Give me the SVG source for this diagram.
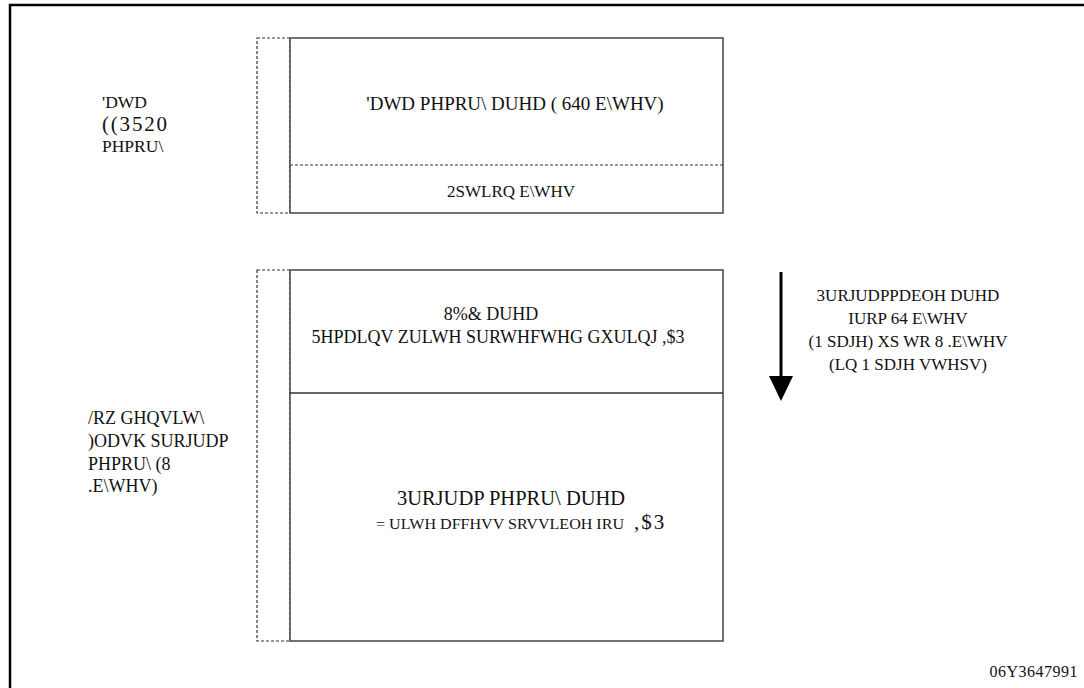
<svg xmlns="http://www.w3.org/2000/svg" width="1084" height="688" viewBox="0 0 1084 688">
<style>
text{font-family:'Liberation Serif','DejaVu Serif',serif;fill:#111;}
.box{fill:#fff;stroke:#444;stroke-width:1.5;}
.dash{fill:none;stroke:#333;stroke-width:1.2;stroke-dasharray:3,2;}
</style>
<rect x="0" y="0" width="1084" height="688" fill="#fff"/>
<path d="M10,688 L10,5 L1084,5" fill="none" stroke="#000" stroke-width="2.5"/>

<g id="left-labels" font-family="Liberation Serif, serif">
<text x="102" y="108" font-size="17.5">'DWD</text>
<text x="102" y="131" font-size="21" letter-spacing="1.8">((3520</text>
<text x="102" y="152" font-size="17.5">PHPRU\</text>
<text x="88" y="424" font-size="18">/RZ GHQVLW\</text>
<text x="88" y="447" font-size="18">)ODVK SURJUDP</text>
<text x="88" y="470" font-size="18">PHPRU\ (8</text>
<text x="88" y="492" font-size="18">.E\WHV)</text>
</g>

<g id="data-eeprom" font-family="Liberation Serif, serif">
<rect class="dash" x="257" y="38" width="33" height="175"/>
<rect class="box" x="290" y="38" width="433" height="175"/>
<line class="dash" x1="290" y1="165" x2="723" y2="165"/>
<text x="515" y="110" font-size="19" text-anchor="middle">'DWD PHPRU\ DUHD ( 640 E\WHV)</text>
<text x="511" y="197" font-size="17" text-anchor="middle">2SWLRQ E\WHV</text>
</g>

<g id="flash" font-family="Liberation Serif, serif">
<rect class="dash" x="257" y="270" width="33" height="371"/>
<rect class="box" x="290" y="270" width="433" height="371"/>
<line x1="290" y1="393" x2="723" y2="393" stroke="#333" stroke-width="1.5"/>
<text x="491" y="320" font-size="18" text-anchor="middle">8%&amp; DUHD</text>
<text x="498" y="343" font-size="18" text-anchor="middle">5HPDLQV ZULWH SURWHFWHG GXULQJ ,$3</text>
<text x="511" y="505" font-size="20.5" text-anchor="middle">3URJUDP PHPRU\ DUHD</text>
<text x="376" y="529" font-size="15.5" textLength="248" lengthAdjust="spacingAndGlyphs">= ULWH DFFHVV SRVVLEOH IRU</text>
<text x="634" y="529" font-size="21" letter-spacing="2">,$3</text>
</g>

<g id="connectors">
<line x1="781" y1="272" x2="781" y2="380" stroke="#000" stroke-width="3"/>
<path d="M769,376 L793,376 L781,401 z" fill="#000"/>
</g>

<g id="right-label" font-family="Liberation Serif, serif">
<text x="908" y="301" font-size="17" text-anchor="middle">3URJUDPPDEOH DUHD</text>
<text x="908" y="324" font-size="17" text-anchor="middle">IURP 64 E\WHV</text>
<text x="908" y="347" font-size="17" text-anchor="middle">(1 SDJH) XS WR 8 .E\WHV</text>
<text x="908" y="370" font-size="17" text-anchor="middle">(LQ 1 SDJH VWHSV)</text>
</g>

<text x="1078" y="677" font-size="16" letter-spacing="0.5" text-anchor="end" font-family="Liberation Serif, serif">06Y3647991</text>
</svg>
